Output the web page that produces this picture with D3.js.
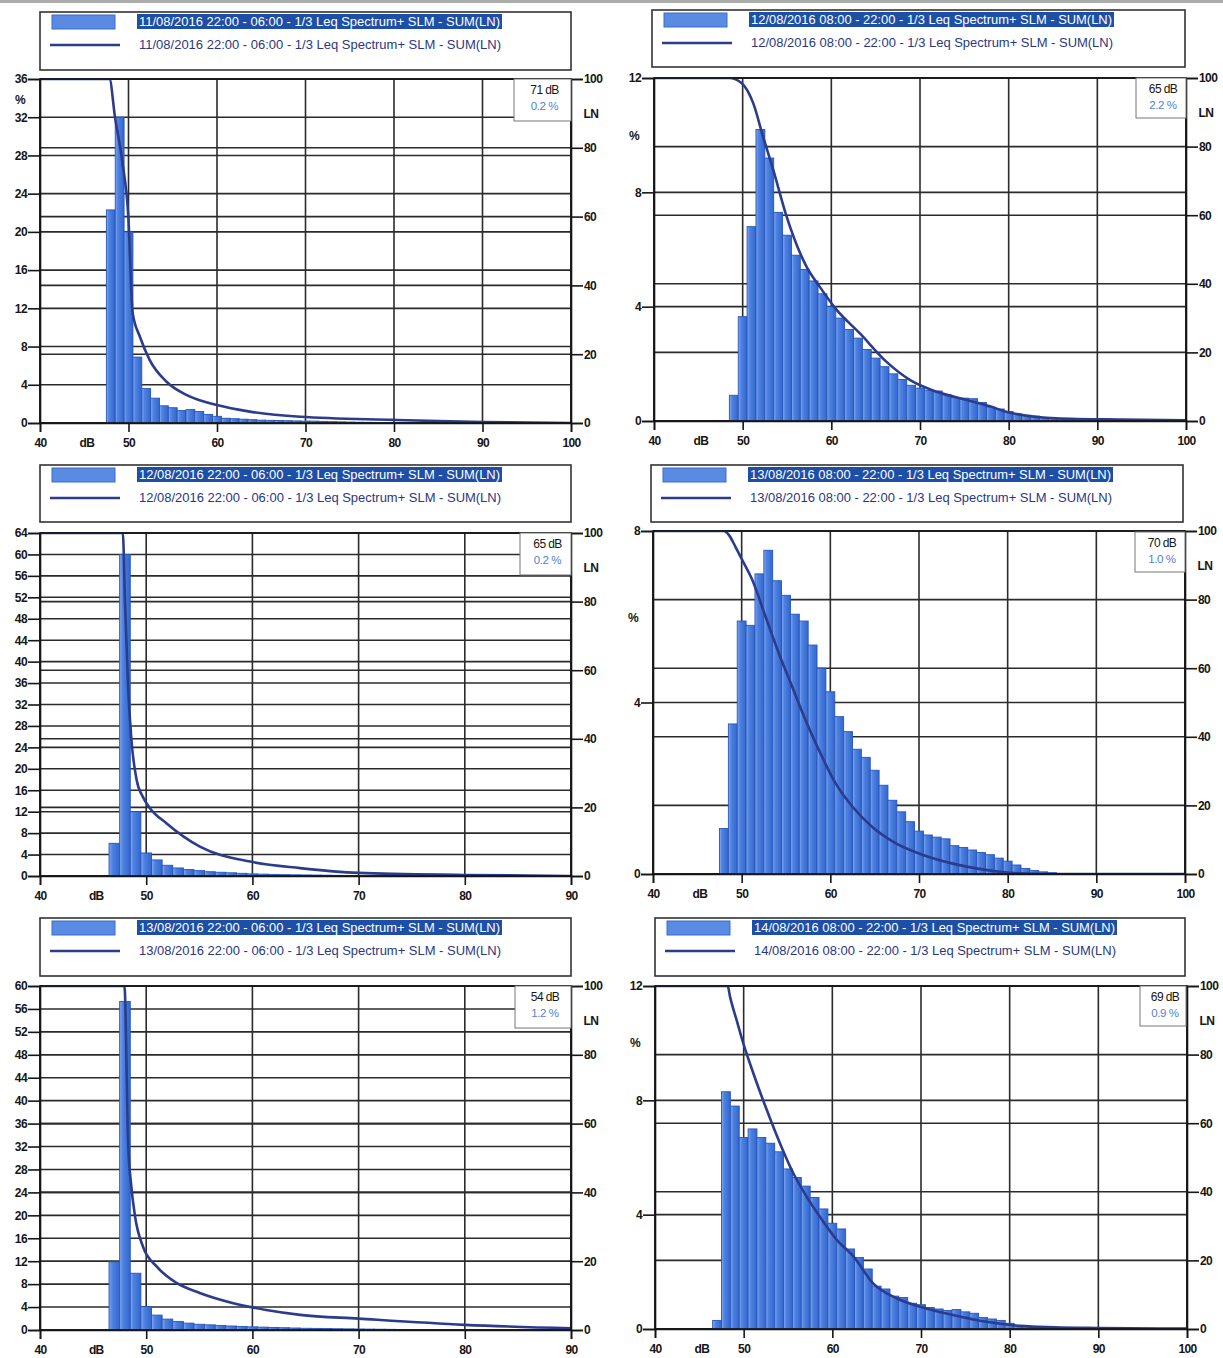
<!DOCTYPE html>
<html><head><meta charset="utf-8">
<script src="https://cdn.jsdelivr.net/npm/d3@7"></script>
<style>
html,body{margin:0;padding:0;background:#fff;}
svg{display:block;}
</style></head><body>
<svg id="chart" width="1223" height="1358"></svg>
<script>
// Legend titles, one per measurement period
const titles = [
  "11/08/2016 22:00 - 06:00 - 1/3 Leq Spectrum+ SLM - SUM(LN)",
  "12/08/2016 08:00 - 22:00 - 1/3 Leq Spectrum+ SLM - SUM(LN)",
  "12/08/2016 22:00 - 06:00 - 1/3 Leq Spectrum+ SLM - SUM(LN)",
  "13/08/2016 08:00 - 22:00 - 1/3 Leq Spectrum+ SLM - SUM(LN)",
  "13/08/2016 22:00 - 06:00 - 1/3 Leq Spectrum+ SLM - SUM(LN)",
  "14/08/2016 08:00 - 22:00 - 1/3 Leq Spectrum+ SLM - SUM(LN)"
];

// Level distribution: % of time per 1 dB class, starting at firstLevel[i]
const firstLevel = [48, 49, 47, 48, 47, 47];
const dist1 = [22.3, 32.0, 20.0, 6.9, 3.6, 2.6, 1.8, 1.6, 1.3, 1.4, 1.2, 0.9, 0.7, 0.5, 0.45, 0.4, 0.35, 0.3, 0.28, 0.26, 0.24, 0.22, 0.2, 0.2, 0.17, 0.14, 0.12, 0.1, 0.08, 0.07, 0.06, 0.05, 0.04, 0.03, 0.03];
const dist2 = [0.9, 3.65, 6.8, 10.2, 9.2, 7.3, 6.5, 5.8, 5.3, 4.9, 4.45, 4.0, 3.6, 3.2, 2.9, 2.5, 2.2, 1.9, 1.65, 1.45, 1.25, 1.15, 1.08, 1.05, 0.92, 0.82, 0.8, 0.78, 0.65, 0.48, 0.42, 0.33, 0.25, 0.2, 0.17, 0.12, 0.1, 0.08, 0.07, 0.06, 0.05, 0.04, 0.03, 0.03];
const dist3 = [6.1, 60.0, 12.0, 4.3, 3.0, 2.0, 1.5, 1.2, 1.0, 0.8, 0.7, 0.6, 0.5, 0.4, 0.35, 0.3, 0.25, 0.22, 0.2, 0.18, 0.15, 0.12, 0.1, 0.08, 0.07, 0.06, 0.05, 0.04, 0.03];
const dist4 = [1.06, 3.5, 5.9, 5.8, 7.0, 7.55, 6.84, 6.5, 6.06, 5.9, 5.34, 4.8, 4.25, 3.67, 3.32, 2.91, 2.72, 2.42, 2.07, 1.72, 1.45, 1.22, 1.0, 0.91, 0.86, 0.82, 0.66, 0.62, 0.56, 0.5, 0.45, 0.37, 0.3, 0.21, 0.13, 0.08, 0.05, 0.03];
const dist5 = [11.9, 57.3, 9.9, 4.1, 2.6, 1.9, 1.5, 1.2, 1.0, 0.9, 0.8, 0.7, 0.6, 0.55, 0.5, 0.45, 0.4, 0.35, 0.3, 0.28, 0.25, 0.22, 0.2, 0.18, 0.16, 0.14, 0.12, 0.1, 0.09, 0.08, 0.07, 0.06, 0.05, 0.04];
const dist6 = [0.3, 8.3, 7.8, 6.7, 7.0, 6.7, 6.5, 6.2, 5.6, 5.3, 5.0, 4.6, 4.2, 3.7, 3.5, 2.8, 2.5, 2.1, 1.5, 1.4, 1.15, 1.1, 0.9, 0.85, 0.75, 0.7, 0.65, 0.68, 0.6, 0.55, 0.4, 0.35, 0.3, 0.2, 0.12, 0.1, 0.08, 0.07, 0.06, 0.05, 0.04, 0.03];

// Cumulative exceedance curves SUM(LN): [level dB, LN %]
const ln1 = [[40,100],[47.85,100],[48.47,89],[49.3,76],[49.98,60],[50.47,32],[51.3,25],[52.4,18.3],[54.3,12],[56.6,8.1],[60,5.2],[63.7,3.3],[69.4,1.8],[80,0.9],[90,0.25],[100,0]];
const ln2 = [[40,100],[48.5,100],[49.9,98.5],[51.2,92.6],[52.3,82.9],[53.45,73.2],[54.96,59.6],[57.2,45],[58.7,39.1],[60.6,32.4],[63.2,25.6],[66.2,17.3],[68.9,11.9],[71.9,8.5],[75.3,6.1],[78,4.2],[79.7,2.7],[81.5,1.75],[85.3,0.8],[92.8,0.4],[100,0.2]];
const ln3 = [[40,100],[47.8,100],[48.0,80],[48.3,55],[48.6,40],[49.1,28],[49.7,23],[50.3,20],[51.9,15.4],[55.1,8.5],[59.8,4.2],[64.5,2.3],[70,0.9],[80,0.3],[90,0]];
const ln4 = [[40,100],[48.0,100],[48.57,98.8],[49.3,95.4],[50.07,91.5],[51.2,85.7],[52.7,75],[54.2,64.3],[55.7,54.6],[57.2,44.9],[58.7,36.2],[60.6,26.4],[62.5,19.6],[64.7,13.8],[67.4,8.96],[70,6.0],[73.7,3.1],[77.5,1.2],[81.3,0.2],[85,0],[100,0]];
const ln5 = [[40,100],[47.95,100],[48.3,54.3],[48.6,41.7],[48.95,33],[49.7,24.2],[51,18.4],[52.9,13.6],[55.1,10.7],[58.2,7.8],[61.3,5.8],[64.5,4.4],[70,3.3],[80,1.5],[90,0.5]];
const ln6 = [[40,100],[48.2,100],[48.46,96.9],[49.2,90.1],[49.96,83.3],[51.1,74.5],[52.6,63.9],[54.1,54.1],[55.6,45.4],[57.1,38.6],[58.6,32.7],[60.5,26],[62.4,21.1],[64.6,13.3],[67.3,8.9],[69.9,6.5],[73.6,4.1],[77.4,2.1],[81.2,0.9],[85,0.5],[90,0.3],[100,0.1]];

// Cursor readout level (dB) per panel
const cursorLevel = [71, 65, 65, 70, 54, 69];

// Axis extents and tick labels
const pctMax = [36, 12, 64, 8, 60, 12];
const dbMax = [100, 100, 90, 100, 90, 100];
const dbTicks100 = [40, 50, 60, 70, 80, 90, 100];
const dbTicks90 = [40, 50, 60, 70, 80, 90];
const lnTicks = [0, 20, 40, 60, 80, 100];

const dists = [dist1, dist2, dist3, dist4, dist5, dist6];
const curves = [ln1, ln2, ln3, ln4, ln5, ln6];

// Panel geometry (plot area, legend box, cursor box)
const layout = [
  {x0: 40,  x1: 571,  y0: 79,  y1: 423,  lg: {x: 40,  y: 12,  w: 531, h: 58}, info: {x: 514,  y: 79,  w: 57, h: 42}, pctY: 104},
  {x0: 654, x1: 1186, y0: 78,  y1: 421,  lg: {x: 652, y: 10,  w: 533, h: 57}, info: {x: 1136, y: 78,  w: 50, h: 40}, pctY: 140},
  {x0: 40,  x1: 571,  y0: 533, y1: 876,  lg: {x: 40,  y: 465, w: 531, h: 57}, info: {x: 520,  y: 533, w: 51, h: 42}, pctY: null},
  {x0: 653, x1: 1185, y0: 531, y1: 874,  lg: {x: 651, y: 465, w: 532, h: 57}, info: {x: 1135, y: 532, w: 50, h: 40}, pctY: 622},
  {x0: 40,  x1: 571,  y0: 986, y1: 1330, lg: {x: 40,  y: 918, w: 531, h: 58}, info: {x: 515,  y: 986, w: 56, h: 42}, pctY: null},
  {x0: 655, x1: 1187, y0: 986, y1: 1329, lg: {x: 655, y: 918, w: 530, h: 58}, info: {x: 1140, y: 986, w: 46, h: 40}, pctY: 1047}
];

const FONT = "'Liberation Sans', Arial, sans-serif";
const INK = "#161616";
const GRID = "#2b2b2b";
const NAVY = "#2b3c8c";

const svg = d3.select("#chart");
svg.append("rect").attr("width", 1223).attr("height", 1358).attr("fill", "#fff");
svg.append("rect").attr("x", 0).attr("y", 0).attr("width", 1223).attr("height", 3).attr("fill", "#a9aca9");

const defs = svg.append("defs");
const grad = defs.append("linearGradient").attr("id", "barFill")
  .attr("x1", "0").attr("x2", "1").attr("y1", "0").attr("y2", "0");
grad.append("stop").attr("offset", "0").attr("stop-color", "#86aaf0");
grad.append("stop").attr("offset", "0.3").attr("stop-color", "#4e82e2");
grad.append("stop").attr("offset", "1").attr("stop-color", "#3366cc");

layout.forEach((L, i) => {
  const x = d3.scaleLinear().domain([40, dbMax[i]]).range([L.x0, L.x1]);
  const y = d3.scaleLinear().domain([0, pctMax[i]]).range([L.y1, L.y0]);
  const yLN = d3.scaleLinear().domain([0, 100]).range([L.y1, L.y0]);
  const pctTicks = d3.range(0, pctMax[i] + 0.001, 4);
  const dbTicks = dbMax[i] === 100 ? dbTicks100 : dbTicks90;
  const g = svg.append("g");

  defs.append("clipPath").attr("id", "clip" + i).append("rect")
    .attr("x", L.x0).attr("y", L.y0 - 1).attr("width", L.x1 - L.x0).attr("height", L.y1 - L.y0 + 2);

  // grid: % ticks, LN ticks, dB ticks
  const grid = g.append("g").attr("stroke", GRID).attr("stroke-width", 1.6);
  grid.selectAll(".gp").data(pctTicks).join("line")
    .attr("x1", L.x0).attr("x2", L.x1).attr("y1", d => y(d)).attr("y2", d => y(d));
  grid.selectAll(".gl").data(lnTicks).join("line")
    .attr("x1", L.x0).attr("x2", L.x1).attr("y1", d => yLN(d)).attr("y2", d => yLN(d));
  grid.selectAll(".gx").data(dbTicks).join("line")
    .attr("x1", d => x(d)).attr("x2", d => x(d)).attr("y1", L.y0).attr("y2", L.y1);

  // distribution bars, one per 1 dB class
  const bars = dists[i].map((v, k) => ({db: firstLevel[i] + k, v}));
  g.append("g").attr("clip-path", `url(#clip${i})`)
    .selectAll("rect").data(bars).join("rect")
    .attr("x", d => x(d.db - 0.5))
    .attr("width", d => x(d.db + 0.5) - x(d.db - 0.5))
    .attr("y", d => y(d.v))
    .attr("height", d => y(0) - y(d.v))
    .attr("fill", "url(#barFill)")
    .attr("stroke", "#2756bb").attr("stroke-width", 0.9);

  // cumulative LN curve
  const line = d3.line().x(d => x(d[0])).y(d => yLN(d[1])).curve(d3.curveMonotoneX);
  g.append("path").datum(curves[i]).attr("clip-path", `url(#clip${i})`)
    .attr("d", line).attr("fill", "none")
    .attr("stroke", NAVY).attr("stroke-width", 2.6).attr("stroke-linejoin", "round");

  // plot frame
  g.append("rect").attr("x", L.x0).attr("y", L.y0).attr("width", L.x1 - L.x0).attr("height", L.y1 - L.y0)
    .attr("fill", "none").attr("stroke", INK).attr("stroke-width", 1.6);

  // axes
  const styleAxis = sel => {
    sel.selectAll("path").attr("stroke", INK).attr("stroke-width", 1.6);
    sel.selectAll("line").attr("stroke", INK).attr("stroke-width", 1.6);
    sel.selectAll("text").attr("font-family", FONT).attr("font-size", 12).attr("font-weight", "bold")
      .attr("letter-spacing", "-0.6").attr("fill", INK);
  };
  g.append("g").attr("transform", `translate(${L.x0},0)`)
    .call(d3.axisLeft(y).tickValues(pctTicks).tickSize(12).tickPadding(1).tickFormat(d3.format("d")))
    .call(styleAxis);
  g.append("g").attr("transform", `translate(${L.x1},0)`)
    .call(d3.axisRight(yLN).tickValues(lnTicks).tickSize(12).tickPadding(1).tickFormat(d3.format("d")))
    .call(styleAxis);
  g.append("g").attr("transform", `translate(0,${L.y1})`)
    .call(d3.axisBottom(x).tickValues(dbTicks).tickSize(9).tickPadding(6).tickFormat(d3.format("d")))
    .call(styleAxis);

  // unit labels
  const unit = (tx, ty, s, anchor) => g.append("text").attr("x", tx).attr("y", ty).text(s)
    .attr("font-family", FONT).attr("font-size", 12).attr("font-weight", "bold")
    .attr("letter-spacing", "-0.6").attr("fill", INK).attr("text-anchor", anchor || "middle");
  unit(x(45.3), L.y1 + 24, "dB");
  unit(L.x1 + 20, L.y0 + 39, "LN");
  if (L.pctY) unit(L.x0 - 20, L.pctY, "%");

  // legend
  const lg = L.lg;
  g.append("rect").attr("x", lg.x).attr("y", lg.y).attr("width", lg.w).attr("height", lg.h)
    .attr("fill", "#fff").attr("stroke", "#333").attr("stroke-width", 1.6);
  g.append("rect").attr("x", lg.x + 12).attr("y", lg.y + 3).attr("width", 63).attr("height", 14)
    .attr("fill", "#5a8be2").attr("stroke", "#3b6ccc").attr("stroke-width", 1);
  g.append("rect").attr("x", lg.x + 97).attr("y", lg.y + 2).attr("width", 365).attr("height", 15)
    .attr("fill", "#1e4fa6");
  g.append("text").attr("x", lg.x + 99).attr("y", lg.y + 14).text(titles[i])
    .attr("font-family", FONT).attr("font-size", 12).attr("fill", "#fff")
    .attr("textLength", 361).attr("lengthAdjust", "spacingAndGlyphs");
  g.append("line").attr("x1", lg.x + 10).attr("x2", lg.x + 80).attr("y1", lg.y + 33).attr("y2", lg.y + 33)
    .attr("stroke", NAVY).attr("stroke-width", 2.4);
  g.append("text").attr("x", lg.x + 99).attr("y", lg.y + 37).text(titles[i])
    .attr("font-family", FONT).attr("font-size", 12.5).attr("fill", "#2a3782")
    .attr("textLength", 362).attr("lengthAdjust", "spacingAndGlyphs");

  // cursor readout box
  const inf = L.info;
  const cur = bars.find(b => b.db === cursorLevel[i]);
  g.append("rect").attr("x", inf.x).attr("y", inf.y).attr("width", inf.w).attr("height", inf.h)
    .attr("fill", "#fff").attr("stroke", "#777").attr("stroke-width", 1);
  g.append("text").attr("x", inf.x + inf.w / 2 + 2).attr("y", inf.y + 15).text(`${cur.db} dB`)
    .attr("font-family", FONT).attr("font-size", 12).attr("letter-spacing", "-0.6")
    .attr("fill", INK).attr("text-anchor", "middle");
  g.append("text").attr("x", inf.x + inf.w / 2 + 2).attr("y", inf.y + 31).text(`${d3.format(".1f")(cur.v)} %`)
    .attr("font-family", FONT).attr("font-size", 11.5).attr("letter-spacing", "-0.4")
    .attr("fill", "#4f7fd8").attr("text-anchor", "middle");
});
</script>
</body></html>
